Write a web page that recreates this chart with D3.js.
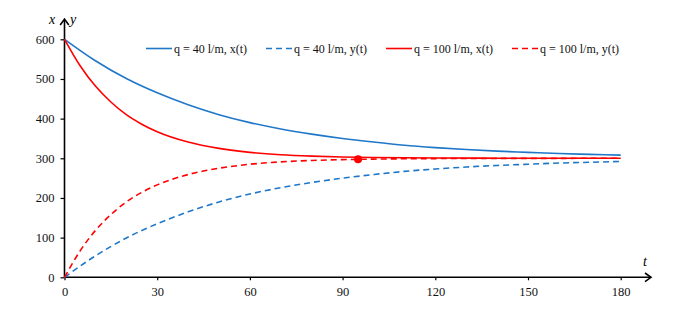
<!DOCTYPE html>
<html><head><meta charset="utf-8">
<script src="https://cdn.jsdelivr.net/npm/d3@7"></script>
<style>body{margin:0;background:#fff}</style>
</head><body><svg id="c" width="689" height="314" font-family="Liberation Serif"></svg>
<script>
const tQ40 = [0,10,20,30,40,50,60,70,80,90,100,110,120,130,140,150,160,170,180];
const xQ40 = [600,546,501,465,435,410,390,374,361,350,341,333,327,322,318,315,312,310,308];
const yQ40 = [0,54,99,135,165,190,210,226,239,250,259,267,273,278,282,285,288,290,292];
const tQ100 = [0,5,10,15,20,25,30,40,50,60,70,80,90,100,110,120,140,160,180];
const xQ100 = [600,534,482,442,410,386,367,341,325,315,309,305.5,303.3,302,301.2,300.7,300.3,300.1,300];
const yQ100 = [0,66,118,158,190,214,233,259,275,285,291,294.5,296.7,298,298.8,299.3,299.7,299.9,300];
const xTicks = [0,30,60,90,120,150,180];
const yTicks = [0,100,200,300,400,500,600];
const marker = {t:95, v:297.5};
const legendLabels = ["q = 40 l/m, x(t)","q = 40 l/m, y(t)","q = 100 l/m, x(t)","q = 100 l/m, y(t)"];

const FONT = "Liberation Serif";
const svg = d3.select("#c");
const xs = d3.scaleLinear().domain([0,180]).range([64.5,620.7]);
const ys = d3.scaleLinear().domain([0,600]).range([277.3,39.3]);
const BLUE="#1F77C8", RED="#FF0000";

svg.append("line").attr("x1",64.5).attr("x2",650).attr("y1",277.3).attr("y2",277.3).attr("stroke","#000").attr("stroke-width",1.6);
svg.append("line").attr("x1",64.5).attr("x2",64.5).attr("y1",277.3).attr("y2",20).attr("stroke","#000").attr("stroke-width",1.6);
svg.append("path").attr("d","M645,273 L651,277.3 L645,281.6").attr("fill","none").attr("stroke","#000").attr("stroke-width",1.6);
svg.append("path").attr("d","M60.2,25 L64.5,19 L68.8,25").attr("fill","none").attr("stroke","#000").attr("stroke-width",1.6);

const xa = svg.append("g").attr("transform","translate(0,277.3)")
  .call(d3.axisBottom(xs).tickValues(xTicks).tickSize(3).tickPadding(7).tickFormat(d3.format("d")));
xa.select(".domain").remove();
const ya = svg.append("g").attr("transform","translate(64.5,0)")
  .call(d3.axisLeft(ys).tickValues(yTicks).tickSize(4).tickPadding(6).tickFormat(d3.format("d")));
ya.select(".domain").remove();
xa.attr("font-family",FONT).attr("font-size",12.5);
ya.attr("font-family",FONT).attr("font-size",12.5);
svg.selectAll(".tick text").attr("fill","#111");
svg.selectAll(".tick line").attr("stroke","#000").attr("stroke-width",1.2);

const lab = (x,y,t)=>svg.append("text").attr("x",x).attr("y",y).attr("text-anchor","middle")
  .attr("font-family",FONT).attr("font-style","italic").attr("font-size",14).text(t);
lab(52,24,"x"); lab(73,24,"y"); lab(645,266,"t");

const line = (ts,vs)=>d3.line().x((d,i)=>xs(ts[i])).y(d=>ys(d)).curve(d3.curveMonotoneX)(vs);
const series = [
  {t:tQ40,v:xQ40,c:BLUE,dash:null},
  {t:tQ40,v:yQ40,c:BLUE,dash:"6,4"},
  {t:tQ100,v:xQ100,c:RED,dash:null},
  {t:tQ100,v:yQ100,c:RED,dash:"6,4"}
];
series.forEach(s=>{
  svg.append("path").attr("d",line(s.t,s.v)).attr("fill","none").attr("stroke",s.c).attr("stroke-width",1.6)
    .attr("stroke-dasharray",s.dash);
});
svg.append("circle").attr("cx",xs(marker.t)).attr("cy",ys(marker.v)).attr("r",4).attr("fill",RED);

const lx = [146,266,386,512];
legendLabels.forEach((l,i)=>{
  const s=series[i];
  svg.append("line").attr("x1",lx[i]).attr("x2",lx[i]+26).attr("y1",48.5).attr("y2",48.5)
    .attr("stroke",s.c).attr("stroke-width",1.6).attr("stroke-dasharray",s.dash?"6,4":null);
  svg.append("text").attr("x",lx[i]+28).attr("y",52.5).attr("font-family",FONT).attr("font-size",12).attr("fill","#111").text(l);
});
</script></body></html>
